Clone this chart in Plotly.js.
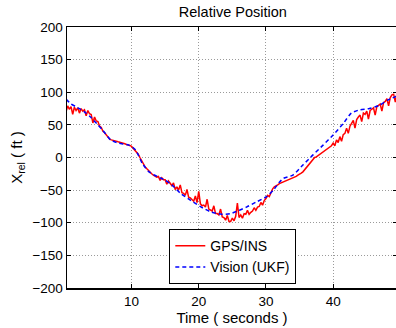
<!DOCTYPE html>
<html>
<head>
<meta charset="utf-8">
<script src="https://cdn.plot.ly/plotly-3.0.1.min.js"></script>
<style>
html,body{margin:0;padding:0;overflow:hidden;background:#fff;}
#chart{width:398px;height:328px;}
</style>
</head>
<body>
<div id="chart"></div>
<script>
// GPS/INS (red), sampled every 0.25 s
const gpsTime = [
0,0.25,0.5,0.75, 1,1.25,1.5,1.75, 2,2.25,2.5,2.75, 3,3.25,3.5,3.75, 4,4.25,4.5,4.75,
5,5.25,5.5,5.75, 6,6.25,6.5,6.75, 7,7.25,7.5,7.75, 8,8.25,8.5,8.75, 9,9.25,9.5,9.75,
10,10.25,10.5,10.75, 11,11.25,11.5,11.75, 12,12.25,12.5,12.75, 13,13.25,13.5,13.75, 14,14.25,14.5,14.75,
15,15.25,15.5,15.75, 16,16.25,16.5,16.75, 17,17.25,17.5,17.75, 18,18.25,18.5,18.75, 19,19.25,19.5,19.75,
20,20.25,20.5,20.75, 21,21.25,21.5,21.75, 22,22.25,22.5,22.75, 23,23.25,23.5,23.75, 24,24.25,24.5,24.75,
25,25.25,25.5,25.75, 26,26.25,26.5,26.75, 27,27.25,27.5,27.75, 28,28.25,28.5,28.75, 29,29.25,29.5,29.75,
30,30.25,30.5,30.75, 31,31.25,31.5,31.75, 32,32.25,32.5,32.75, 33,33.25,33.5,33.75, 34,34.25,34.5,34.75,
35,35.25,35.5,35.75, 36,36.25,36.5,36.75, 37,37.25,37.5,37.75, 38,38.25,38.5,38.75, 39,39.25,39.5,39.75,
40,40.25,40.5,40.75, 41,41.25,41.5,41.75, 42,42.25,42.5,42.75, 43,43.25,43.5,43.75, 44,44.25,44.5,44.75,
45,45.25,45.5,45.75, 46,46.25,46.5,46.75, 47,47.25,47.5,47.75, 48,48.25,48.5,48.75, 49,49.25,49.5
];
const gpsX = [
80,70,79,74, 78,66,77,72, 76,68,75,71, 73,64,72,67, 66,53,62,56,
55,48,46,40, 38,34,30,28, 27,26,25,24.5, 24,23.5,23,22, 21,20,19.5,18.5,
17,14,11,8, 5,0,-5,-10, -14,-17,-20,-23, -25,-27,-28,-30, -29,-35,-31,-34,
-34,-41,-36,-39, -43,-39,-49,-45, -50,-42,-54,-55, -58,-49,-61,-62, -64,-67,-59,-69,
-52,-71,-74,-73, -76,-64,-79,-80, -82,-74,-86,-86, -88,-79,-91,-92, -96,-89,-98,-98,
-93,-97,-90,-70, -92,-88,-93,-86, -87,-81,-87,-84, -82,-77,-81,-76, -75,-69,-73,-66,
-63,-58,-60,-54, -48,-45,-44,-42, -40,-39,-38,-37, -36,-35,-34,-33, -32,-30,-29,-27,
-26,-24,-22,-19, -16,-13,-9,-6, -3,0,1,3, 4,6,8,10, 12,14,16,18,
22,18,27,23, 32,25,35,37, 45,37,48,52, 57,45,58,62, 65,55,68,66,
71,59,72,74, 76,65,78,80, 82,71,84,86, 90,79,92,96, 97,85,99
];

// Vision (UKF) estimate (blue dashed)
const visTime = [0.3,1,1.7,3,3.9,5,5.7,6.9,8.1,9.6,10.6,11.6,12.6,13.8,15,16,17.3,18.7,20.2,21.7,
23.4,24.7,25.9,27.1,28.6,30.1,31.1,32,32.6,34,35.5,37,38.5,40,41.5,42.7,43.9,45.4,46.9,48.1,49.5];
const visX = [89,82,78,70,62,50,42,27,22,19,11.5,-9,-22,-29,-35,-42,-55,-65,-75,-83,
-87,-86,-81.5,-76,-68,-60,-50,-38,-32,-27,-11.5,4,19,34.5,52,68,73,75,80,88,94];

const xTicks = [10,20,30,40];
const yTicks = [-200,-150,-100,-50,0,50,100,150,200];
const yTickText = ["\u2212200","\u2212150","\u2212100","\u221250","0","50","100","150","200"];

const font = "Liberation Sans, Arial, Helvetica, sans-serif";

const traces = [
  {x: gpsTime, y: gpsX, type: "scatter", mode: "lines", name: "GPS/INS",
   line: {color: "#ff0000", width: 1.5}},
  {x: visTime, y: visX, type: "scatter", mode: "lines", name: "Vision (UKF)",
   line: {color: "#0000ff", width: 1.5, dash: "4px,3px", shape: "spline", smoothing: 0.6}}
];

const layout = {
  width: 398, height: 328,
  margin: {l: 67, r: 1, t: 27, b: 40},
  paper_bgcolor: "#ffffff", plot_bgcolor: "#ffffff",
  font: {family: font, size: 13.5, color: "#000"},
  title: {text: "Relative Position", font: {family: font, size: 14.5, color: "#000"},
          x: 0.585, xanchor: "center", y: 0.965, yanchor: "middle"},
  showlegend: true,
  legend: {x: 0.31, y: 0.015, xanchor: "left", yanchor: "bottom",
           bgcolor: "#ffffff", bordercolor: "#000", borderwidth: 1,
           font: {family: font, size: 14, color: "#000"}, tracegroupgap: 0},
  xaxis: {range: [0.4, 49.5], tickvals: xTicks, ticktext: xTicks.map(String),
          ticks: "inside", ticklen: 4, tickcolor: "#000", showline: true, linecolor: "#000",
          linewidth: 1.5, mirror: "ticks", showgrid: true, gridcolor: "#9a9a9a", griddash: "1px,2px",
          gridwidth: 1, zeroline: false, tickfont: {size: 13.5},
          title: {text: "Time ( seconds )", font: {family: font, size: 15}, standoff: 1}},
  yaxis: {range: [-200, 200], tickvals: yTicks, ticktext: yTickText,
          ticks: "inside", ticklen: 4, tickcolor: "#000", showline: true, linecolor: "#000",
          linewidth: 1.5, mirror: "ticks", showgrid: true, gridcolor: "#9a9a9a", griddash: "1px,2px",
          gridwidth: 1, zeroline: false, tickfont: {size: 13.5},
          title: {text: "X<sub>rel</sub> ( ft )", font: {family: font, size: 15}, standoff: 6}}
};

Plotly.newPlot("chart", traces, layout, {displayModeBar: false, staticPlot: true});
</script>
</body>
</html>
